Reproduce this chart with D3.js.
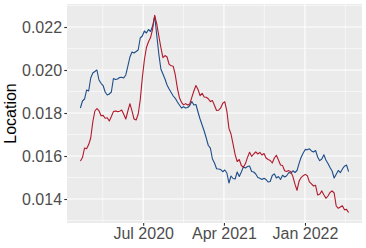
<!DOCTYPE html>
<html><head><meta charset="utf-8">
<script src="https://cdn.jsdelivr.net/npm/d3@7"></script>
<style>
html,body{margin:0;padding:0;background:#fff;}
svg{display:block;}
text{font-family:"Liberation Sans",Arial,Helvetica,sans-serif;}
</style></head>
<body>
<svg id="chart" width="366" height="248"></svg>
<script>
// ---- data ----
const startDate = "2019-12-01";   // weekly observations
const stepDays = 7;
const blueValues = [
0.018233,0.018558,0.018651,0.019070,0.019023,0.019628,0.019861,0.019930,0.020000,0.019535,
0.019381,0.019279,0.018977,0.018837,0.018884,0.018977,0.019605,0.019558,0.019581,0.019651,
0.019661,0.019628,0.019768,0.020186,0.020605,0.020837,0.020791,0.020861,0.020930,0.021488,
0.021581,0.021814,0.021721,0.021884,0.021791,0.022047,0.022512,0.021628,0.020744,0.020047,
0.019814,0.019581,0.019302,0.019116,0.018954,0.018791,0.018684,0.018512,0.018372,0.018233,
0.018293,0.018233,0.018256,0.018349,0.018535,0.018372,0.018395,0.018047,0.017721,0.017442,
0.017163,0.016837,0.016489,0.016363,0.015861,0.015675,0.015405,0.015396,0.015372,0.015270,
0.015349,0.015210,0.014744,0.015070,0.014954,0.014930,0.015256,0.015047,0.015256,0.015489,
0.015442,0.015512,0.015535,0.015279,0.015256,0.015163,0.015000,0.014963,0.014907,0.014963,
0.014903,0.014791,0.014814,0.015093,0.015172,0.014977,0.015047,0.014907,0.015103,0.015023,
0.015084,0.015233,0.015200,0.015312,0.015233,0.015326,0.015656,0.015940,0.016140,0.016307,
0.016289,0.016335,0.016233,0.016186,0.016256,0.015954,0.015782,0.015861,0.016056,0.015814,
0.015647,0.015470,0.015303,0.014977,0.015154,0.015330,0.015224,0.015396,0.015526,0.015582,
0.015270
];
const redValues = [
0.015768,0.015930,0.016372,0.016335,0.016530,0.016837,0.017582,0.018093,0.018209,0.018107,
0.017870,0.017889,0.017758,0.017782,0.017628,0.017837,0.018065,0.018098,0.018065,0.018084,
0.018135,0.017940,0.017721,0.018093,0.018433,0.018102,0.017721,0.017675,0.017944,0.018605,
0.019628,0.020465,0.021047,0.021316,0.021507,0.021907,0.022544,0.022149,0.021581,0.021047,
0.020572,0.020674,0.020605,0.020261,0.020195,0.020172,0.019768,0.019158,0.018712,0.018498,
0.018377,0.018437,0.018372,0.018423,0.018730,0.019023,0.019279,0.019093,0.018809,0.018912,
0.018744,0.018730,0.018665,0.018530,0.018577,0.018349,0.018116,0.018130,0.018237,0.018456,
0.018521,0.018079,0.017284,0.017023,0.016549,0.016065,0.015744,0.015837,0.015558,0.015479,
0.015647,0.015935,0.016172,0.015986,0.016093,0.016191,0.016093,0.016172,0.016047,0.016116,
0.015907,0.015837,0.015791,0.015675,0.015907,0.016033,0.015814,0.015582,0.015554,0.015312,
0.015279,0.015321,0.015265,0.015042,0.014689,0.014405,0.014833,0.014996,0.015084,0.015145,
0.015084,0.014796,0.014703,0.014605,0.014638,0.014186,0.014224,0.014377,0.014196,0.014033,
0.014140,0.014303,0.014377,0.014279,0.013675,0.013568,0.013628,0.013684,0.013498,0.013517,
0.013372
];
const yTicks = [0.014, 0.016, 0.018, 0.020, 0.022];
const yLabels = ["0.014", "0.016", "0.018", "0.020", "0.022"];
const xTicks = ["2020-07-01", "2021-04-01", "2022-01-01"];
const xLabels = ["Jul 2020", "Apr 2021", "Jan 2022"];
const yTitle = "Location";
const seriesColors = ["#1d4e89", "#b2182b"];

// ---- layout ----
const svg = d3.select("#chart");
const W = 366, H = 248;
const panel = {left: 67, right: 362, top: 4, bottom: 223};
const parse = d3.utcParse("%Y-%m-%d");
const t0 = parse(startDate);
const dates = blueValues.map((_, i) => d3.utcDay.offset(t0, i * stepDays));

const series = [
  {name: "blue", values: blueValues, color: seriesColors[0]},
  {name: "red", values: redValues, color: seriesColors[1]}
];

// ggplot-like 5% expansion
const dExt = d3.extent(dates);
const span = dExt[1] - dExt[0];
const x = d3.scaleUtc()
  .domain([new Date(+dExt[0] - span * 0.05), new Date(+dExt[1] + span * 0.05)])
  .range([panel.left, panel.right]);
const y = d3.scaleLinear()
  .domain([0.012884, 0.023070])
  .range([panel.bottom, panel.top]);

// panel background
svg.append("rect")
  .attr("x", panel.left).attr("y", panel.top)
  .attr("width", panel.right - panel.left).attr("height", panel.bottom - panel.top)
  .attr("fill", "#ebebeb");

const g = svg.append("g");
// minor y grid
const yMinor = [];
for (let i = 0; i < yTicks.length + 1; i++) {
  const v = (i === 0) ? yTicks[0] - 0.001 : yTicks[i - 1] + 0.001;
  if (v >= y.domain()[0] && v <= y.domain()[1]) yMinor.push(v);
}
g.selectAll(".ymin").data(yMinor).enter().append("line")
  .attr("x1", panel.left).attr("x2", panel.right)
  .attr("y1", d => y(d)).attr("y2", d => y(d))
  .attr("stroke", "#fff").attr("stroke-width", 0.55);
// minor x grid (midpoints between majors)
const xMajorDates = xTicks.map(parse);
const xMinor = [];
const gap = xMajorDates[1] - xMajorDates[0];
xMinor.push(new Date(+xMajorDates[0] - gap / 2));
for (let i = 0; i < xMajorDates.length; i++) xMinor.push(new Date(+xMajorDates[i] + gap / 2));
g.selectAll(".xmin").data(xMinor.filter(d => x(d) > panel.left && x(d) < panel.right)).enter().append("line")
  .attr("y1", panel.top).attr("y2", panel.bottom)
  .attr("x1", d => x(d)).attr("x2", d => x(d))
  .attr("stroke", "#fff").attr("stroke-width", 0.55);
// major grid
g.selectAll(".ymaj").data(yTicks).enter().append("line")
  .attr("x1", panel.left).attr("x2", panel.right)
  .attr("y1", d => y(d)).attr("y2", d => y(d))
  .attr("stroke", "#fff").attr("stroke-width", 1.1);
g.selectAll(".xmaj").data(xMajorDates).enter().append("line")
  .attr("y1", panel.top).attr("y2", panel.bottom)
  .attr("x1", d => x(d)).attr("x2", d => x(d))
  .attr("stroke", "#fff").attr("stroke-width", 1.1);

// lines
const line = d3.line().x((d, i) => x(dates[i])).y(d => y(d));
svg.append("g").selectAll("path").data(series).enter().append("path")
  .attr("d", s => line(s.values))
  .attr("fill", "none")
  .attr("stroke", s => s.color)
  .attr("stroke-width", 1.1)
  .attr("stroke-linejoin", "round");

// axes
const yAxis = d3.axisLeft(y).tickValues(yTicks).tickFormat((d, i) => yLabels[i]).tickSize(2.75).tickPadding(2.2);
const yg = svg.append("g").attr("transform", `translate(${panel.left},0)`).call(yAxis);
yg.select(".domain").remove();
yg.selectAll(".tick line").attr("stroke", "#333").attr("stroke-width", 1.1);
yg.selectAll(".tick text").attr("fill", "#4d4d4d").style("font-size", "16px");

const xAxis = d3.axisBottom(x).tickValues(xMajorDates).tickFormat((d, i) => xLabels[i]).tickSize(2.75).tickPadding(2.2);
const xg = svg.append("g").attr("transform", `translate(0,${panel.bottom})`).call(xAxis);
xg.select(".domain").remove();
xg.selectAll(".tick line").attr("stroke", "#333").attr("stroke-width", 1.1);
xg.selectAll(".tick text").attr("fill", "#4d4d4d").style("font-size", "16px");

// y title
svg.append("text")
  .attr("transform", `translate(16,${(panel.top + panel.bottom) / 2}) rotate(-90)`)
  .attr("text-anchor", "middle")
  .style("font-size", "16px")
  .attr("fill", "#000")
  .text(yTitle);
</script>
</body></html>
